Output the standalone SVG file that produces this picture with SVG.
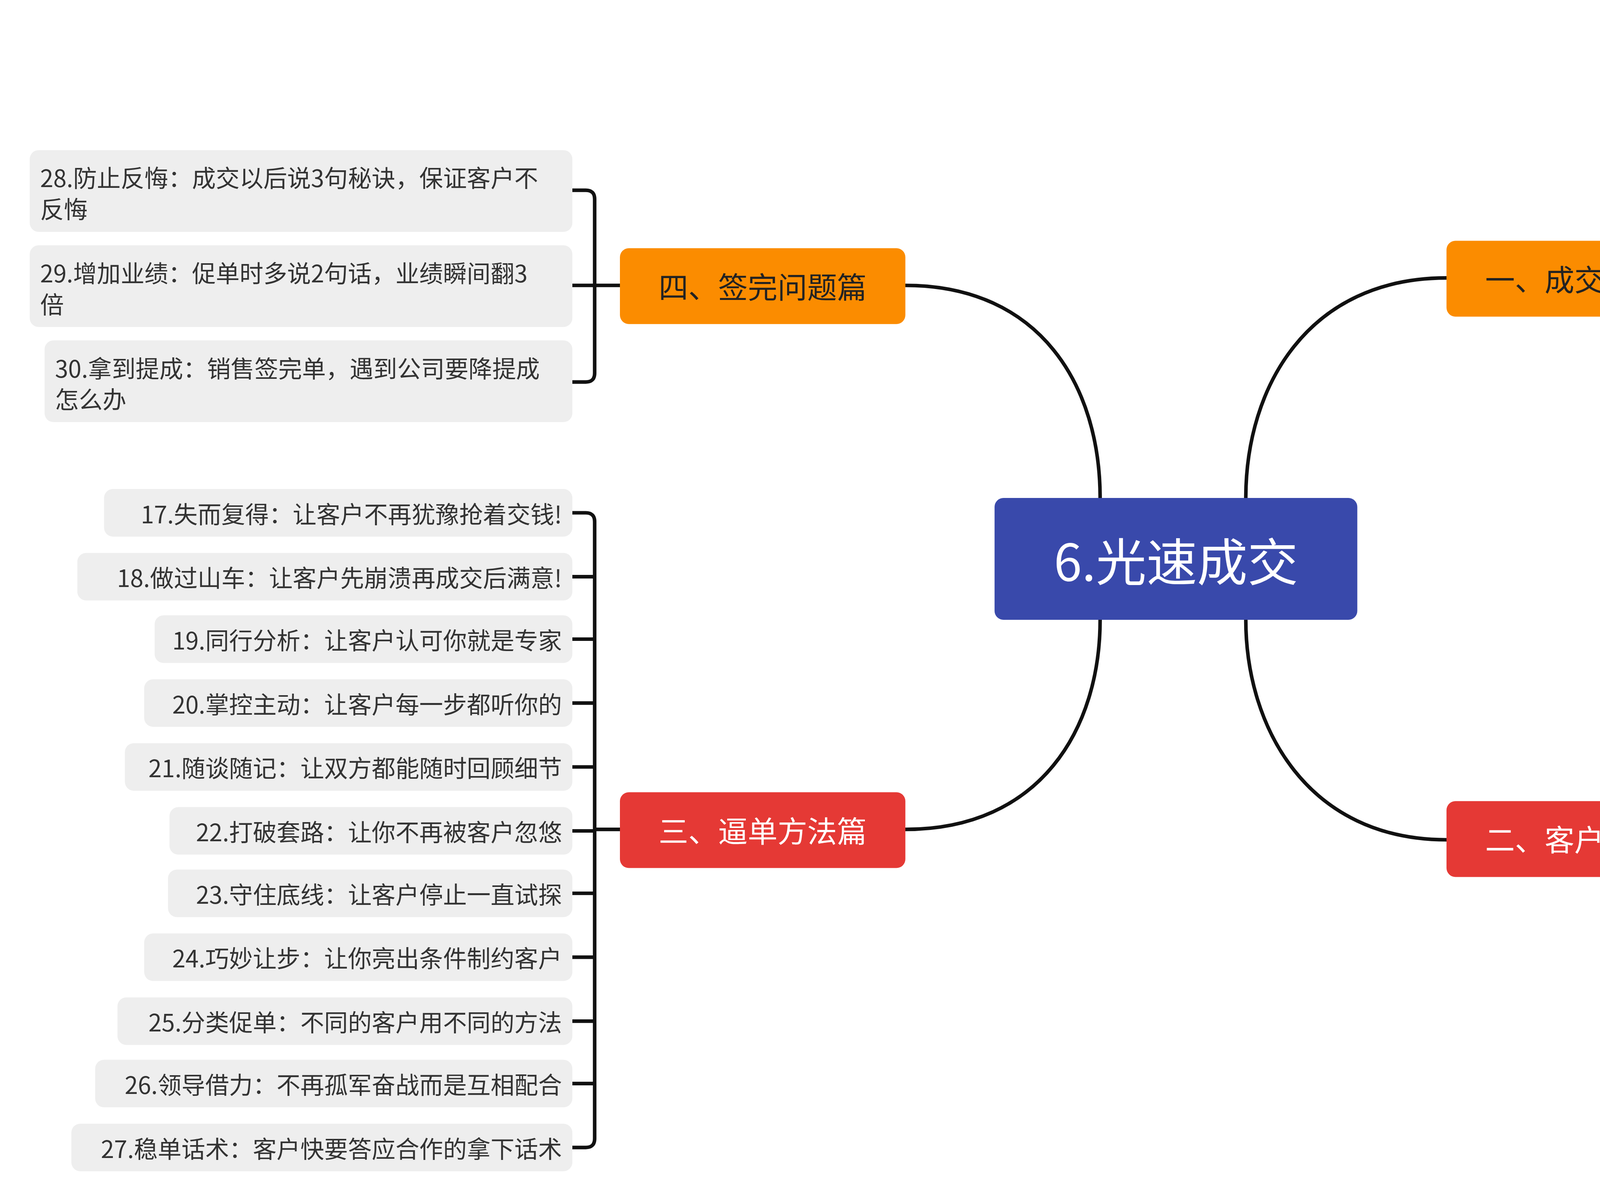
<svg xmlns="http://www.w3.org/2000/svg" width="5937" height="3070" viewBox="0 0 5937 3070">
<style>
text{font-family:"Noto Sans CJK SC","Noto Sans",sans-serif;dominant-baseline:central}
.leaf rect{fill:#EEEEEE}
.leaf text{font-size:16px;fill:#333333;text-anchor:start}
.leaf text.e{text-anchor:end}
.br text{font-size:20px;text-anchor:middle}
.c{fill:none;stroke:#111111;stroke-width:2.4;stroke-linecap:round}
</style>
<rect width="5937" height="3070" fill="#FFFFFF"/>
<g transform="scale(3.8058)">
<g id="connectors" class="c">
<path d="M740,335 C740,260 700,192 609,192"/>
<path d="M838,335 C838,260 880,187 973,187"/>
<path d="M740,417 C740,490 700,558 609,558"/>
<path d="M838,417 C838,490 880,565 973,565"/>
<path d="M1165,187 H1185 M1197,38 H1191 Q1185,38 1185,44 V331 Q1185,337 1191,337 H1197 M1185,81 H1197 M1185,124 H1197 M1185,166 H1197 M1185,209 H1197 M1185,252 H1197 M1185,294 H1197"/>
<path d="M1165,565 H1185 M1197,414 H1191 Q1185,414 1185,420 V708 Q1185,714 1191,714 H1197 M1185,457 H1197 M1185,500 H1197 M1185,543 H1197 M1185,586 H1197 M1185,628 H1197 M1185,671 H1197"/>
<path d="M417,192 H400 M385,128 H394 Q400,128 400,134 V251 Q400,257 394,257 H385 M400,192 H385"/>
<path d="M417,558 H400 M385,345 H394 Q400,345 400,351 V766 Q400,772 394,772 H385 M400,388 H385 M400,430 H385 M400,473 H385 M400,516 H385 M400,559 H385 M400,601 H385 M400,644 H385 M400,687 H385 M400,729 H385"/>
</g>
<g id="center"><rect x="669" y="335" width="244" height="82" rx="6" fill="#3949AB"/><text x="791" y="376" font-size="34" fill="#FFFFFF" text-anchor="middle">6.光速成交</text></g>
<g id="b1" class="br"><rect x="973" y="162" width="192" height="51" rx="6" fill="#FB8C00"/><text x="1069" y="187" fill="#222">一、成交信号篇</text></g>
<g id="b2" class="br"><rect x="973" y="539" width="192" height="51" rx="6" fill="#E53935"/><text x="1069" y="564" fill="#FFF">二、客户担忧篇</text></g>
<g id="b3" class="br"><rect x="417" y="533" width="192" height="51" rx="6" fill="#E53935"/><text x="513" y="558" fill="#FFF">三、逼单方法篇</text></g>
<g id="b4" class="br"><rect x="417" y="167" width="192" height="51" rx="6" fill="#FB8C00"/><text x="513" y="192" fill="#222">四、签完问题篇</text></g>
<g class="leaf">
<g id="n1"><rect x="1197" y="22" width="310" height="32" rx="6"/><text x="1204" y="38">1. 先导试听： 送你逼单3大招客户主动买</text></g>
<g id="n2"><rect x="1197" y="65" width="326" height="32" rx="6"/><text x="1204" y="81">2. 语言信号：看到这5大成交信号，直接签</text></g>
<g id="n3"><rect x="1197" y="108" width="292" height="32" rx="6"/><text x="1204" y="124">3. 肢体信号：这3大肢体动作助你爆单</text></g>
<g id="n4"><rect x="1197" y="150" width="279" height="32" rx="6"/><text x="1204" y="166">4. 跑单原因：竟然是你说了这6种话</text></g>
<g id="n5"><rect x="1197" y="193" width="330" height="32" rx="6"/><text x="1204" y="209">5. Yi情借口：客户说等Yi情过去再说怎么办</text></g>
<g id="n6"><rect x="1197" y="236" width="348" height="32" rx="6"/><text x="1204" y="252">6. 以退为进：客户说不能少就选别家怎么办?</text></g>
<g id="n7"><rect x="1197" y="278" width="314" height="32" rx="6"/><text x="1204" y="294">7. 寻求意见：客户想问别人再买怎么办?</text></g>
<g id="n8"><rect x="1197" y="321" width="314" height="32" rx="6"/><text x="1204" y="337">8. 客户角度：不再威胁客户让他自己着急</text></g>
<g id="n9"><rect x="1197" y="398" width="290" height="32" rx="6"/><text x="1204" y="414">9.纠结为难：如何主动减轻客户压力?</text></g>
<g id="n10"><rect x="1197" y="441" width="330" height="32" rx="6"/><text x="1204" y="457">10.担心质量：客户怀疑质量不达标怎么办?</text></g>
<g id="n11"><rect x="1197" y="484" width="345" height="32" rx="6"/><text x="1204" y="500">11.担心服务：客户担心后续服务不好怎么办?</text></g>
<g id="n12"><rect x="1197" y="527" width="316" height="32" rx="6"/><text x="1204" y="543">12.付款障碍：一说到付钱就害怕怎么办?</text></g>
<g id="n13"><rect x="1197" y="570" width="350" height="32" rx="6"/><text x="1204" y="586">13.负向惩罚：让客户知道他的犹豫是有代价的</text></g>
<g id="n14"><rect x="1197" y="612" width="333" height="32" rx="6"/><text x="1204" y="628">14.毫无退路：让客户知道你已经没有余地了</text></g>
<g id="n15"><rect x="1197" y="655" width="329" height="32" rx="6"/><text x="1204" y="671">15.敢于逼单：5句话让你搞清状况不再瞎猜</text></g>
<g id="n16"><rect x="1197" y="698" width="284" height="32" rx="6"/><text x="1204" y="714">16.硬话软说：摆明实力增加客户信心</text></g>
<g id="n28"><rect x="20" y="101" width="365" height="55" rx="6"/><text x="27" y="119">28.防止反悔：成交以后说3句秘诀，保证客户不</text><text x="27" y="140">反悔</text></g>
<g id="n29"><rect x="20" y="165" width="365" height="55" rx="6"/><text x="27" y="183">29.增加业绩：促单时多说2句话，业绩瞬间翻3</text><text x="27" y="204">倍</text></g>
<g id="n30"><rect x="30" y="229" width="355" height="55" rx="6"/><text x="37" y="247">30.拿到提成：销售签完单，遇到公司要降提成</text><text x="37" y="268">怎么办</text></g>
<g id="n17"><rect x="70" y="329" width="315" height="32" rx="6"/><text class="e" x="378" y="345">17.失而复得：让客户不再犹豫抢着交钱!</text></g>
<g id="n18"><rect x="52" y="372" width="333" height="32" rx="6"/><text class="e" x="378" y="388">18.做过山车：让客户先崩溃再成交后满意!</text></g>
<g id="n19"><rect x="104" y="414" width="281" height="32" rx="6"/><text class="e" x="378" y="430">19.同行分析：让客户认可你就是专家</text></g>
<g id="n20"><rect x="97" y="457" width="288" height="32" rx="6"/><text class="e" x="378" y="473">20.掌控主动：让客户每一步都听你的</text></g>
<g id="n21"><rect x="84" y="500" width="301" height="32" rx="6"/><text class="e" x="378" y="516">21.随谈随记：让双方都能随时回顾细节</text></g>
<g id="n22"><rect x="114" y="543" width="271" height="32" rx="6"/><text class="e" x="378" y="559">22.打破套路：让你不再被客户忽悠</text></g>
<g id="n23"><rect x="113" y="585" width="272" height="32" rx="6"/><text class="e" x="378" y="601">23.守住底线：让客户停止一直试探</text></g>
<g id="n24"><rect x="97" y="628" width="288" height="32" rx="6"/><text class="e" x="378" y="644">24.巧妙让步：让你亮出条件制约客户</text></g>
<g id="n25"><rect x="79" y="671" width="306" height="32" rx="6"/><text class="e" x="378" y="687">25.分类促单：不同的客户用不同的方法</text></g>
<g id="n26"><rect x="64" y="713" width="321" height="32" rx="6"/><text class="e" x="378" y="729">26.领导借力：不再孤军奋战而是互相配合</text></g>
<g id="n27"><rect x="48" y="756" width="337" height="32" rx="6"/><text class="e" x="378" y="772">27.稳单话术：客户快要答应合作的拿下话术</text></g>
</g>
</g>
</svg>
